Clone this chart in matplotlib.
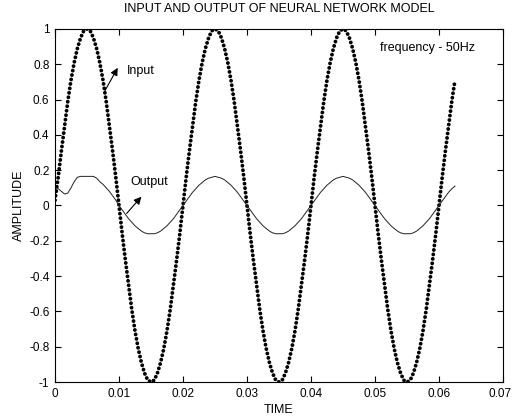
import numpy as np
import matplotlib
matplotlib.use("Agg")
import matplotlib.pyplot as plt
import matplotlib.transforms as mtransforms

plt.rcParams['font.family'] = ['Liberation Sans', 'DejaVu Sans']

# samples, one every 0.0005 s
sample_step = 0.0005

input_amp = [
    0.03, 0.16, 0.31, 0.45, 0.59, 0.71, 0.81, 0.89, 0.95, 0.99,
    1.00, 0.99, 0.95, 0.89, 0.81, 0.71, 0.59, 0.45, 0.31, 0.16,
    0.00, -0.16, -0.31, -0.45, -0.59, -0.71, -0.81, -0.89, -0.95, -0.99,
    -1.00, -0.99, -0.95, -0.89, -0.81, -0.71, -0.59, -0.45, -0.31, -0.16,
    0.00, 0.16, 0.31, 0.45, 0.59, 0.71, 0.81, 0.89, 0.95, 0.99,
    1.00, 0.99, 0.95, 0.89, 0.81, 0.71, 0.59, 0.45, 0.31, 0.16,
    0.00, -0.16, -0.31, -0.45, -0.59, -0.71, -0.81, -0.89, -0.95, -0.99,
    -1.00, -0.99, -0.95, -0.89, -0.81, -0.71, -0.59, -0.45, -0.31, -0.16,
    0.00, 0.16, 0.31, 0.45, 0.59, 0.71, 0.81, 0.89, 0.95, 0.99,
    1.00, 0.99, 0.95, 0.89, 0.81, 0.71, 0.59, 0.45, 0.31, 0.16,
    0.00, -0.16, -0.31, -0.45, -0.59, -0.71, -0.81, -0.89, -0.95, -0.99,
    -1.00, -0.99, -0.95, -0.89, -0.81, -0.71, -0.59, -0.45, -0.31, -0.16,
    0.00, 0.16, 0.31, 0.45, 0.59, 0.71,
]

output_amp = [
    0.09, 0.095, 0.08, 0.065, 0.07, 0.10, 0.135, 0.16, 0.165, 0.165,
    0.165, 0.165, 0.165, 0.155, 0.135, 0.12, 0.10, 0.08, 0.055, 0.03,
    0.00, -0.025, -0.05, -0.075, -0.095, -0.115, -0.13, -0.145, -0.155, -0.16,
    -0.16, -0.16, -0.155, -0.145, -0.13, -0.115, -0.095, -0.075, -0.05, -0.025,
    0.00, 0.025, 0.05, 0.075, 0.095, 0.115, 0.13, 0.145, 0.155, 0.16,
    0.165, 0.16, 0.155, 0.145, 0.13, 0.115, 0.095, 0.075, 0.05, 0.025,
    0.00, -0.025, -0.05, -0.075, -0.095, -0.115, -0.13, -0.145, -0.155, -0.16,
    -0.16, -0.16, -0.155, -0.145, -0.13, -0.115, -0.095, -0.075, -0.05, -0.025,
    0.00, 0.025, 0.05, 0.075, 0.095, 0.115, 0.13, 0.145, 0.155, 0.16,
    0.165, 0.16, 0.155, 0.145, 0.13, 0.115, 0.095, 0.075, 0.05, 0.025,
    0.00, -0.025, -0.05, -0.075, -0.095, -0.115, -0.13, -0.145, -0.155, -0.16,
    -0.16, -0.16, -0.155, -0.145, -0.13, -0.115, -0.095, -0.075, -0.05, -0.025,
    0.00, 0.025, 0.05, 0.075, 0.095, 0.11,
]

time = np.arange(len(input_amp)) * sample_step

x_ticks = [0, 0.01, 0.02, 0.03, 0.04, 0.05, 0.06, 0.07]
x_labels = ['0', '0.01', '0.02', '0.03', '0.04', '0.05', '0.06', '0.07']
y_ticks = [-1, -0.8, -0.6, -0.4, -0.2, 0, 0.2, 0.4, 0.6, 0.8, 1]
y_labels = ['-1', '-0.8', '-0.6', '-0.4', '-0.2', '0', '0.2', '0.4', '0.6', '0.8', '1']

fig = plt.figure(figsize=(5.13, 4.19), dpi=100)
ax = fig.add_axes([0.1072, 0.0883, 0.8733, 0.8425])

# input drawn as a chain of dots, output as a thin line
ax.plot(time, input_amp, color='black', lw=2.8,
        linestyle=(0, (0.01, 1.15)), dash_capstyle='round')
ax.plot(time, output_amp, color='#222222', lw=0.7)

ax.set_xlim(0, 0.07)
ax.set_ylim(-1, 1)
ax.set_xticks(x_ticks)
ax.set_xticklabels(x_labels)
ax.set_yticks(y_ticks)
ax.set_yticklabels(y_labels)
ax.tick_params(direction='in', top=True, right=True, length=4, width=0.8,
               labelsize=8.5, pad=4)
for s in ax.spines.values():
    s.set_linewidth(0.8)

# keep the last x label inside the figure
last = ax.get_xticklabels()[-1]
last.set_transform(last.get_transform() +
                   mtransforms.ScaledTranslation(-0.03, 0, fig.dpi_scale_trans))

ax.set_title('INPUT AND OUTPUT OF NEURAL NETWORK MODEL', fontsize=9, pad=12)
ax.set_xlabel('TIME', fontsize=9, labelpad=3)
ax.set_ylabel('AMPLITUDE', fontsize=9, labelpad=3)

ax.text(0.0508, 0.89, 'frequency - 50Hz', fontsize=9, va='center')

ax.text(0.0112, 0.76, 'Input', fontsize=9, va='center')
ax.annotate('', xy=(0.0098, 0.78), xytext=(0.0078, 0.65),
            arrowprops=dict(arrowstyle='-|>', color='black', lw=0.8,
                            mutation_scale=11, shrinkA=0, shrinkB=0))

ax.text(0.0118, 0.135, 'Output', fontsize=9, va='center')
ax.annotate('', xy=(0.0135, 0.05), xytext=(0.0112, -0.045),
            arrowprops=dict(arrowstyle='-|>', color='black', lw=0.8,
                            mutation_scale=11, shrinkA=0, shrinkB=0))

fig.savefig('out.png', dpi=100)
